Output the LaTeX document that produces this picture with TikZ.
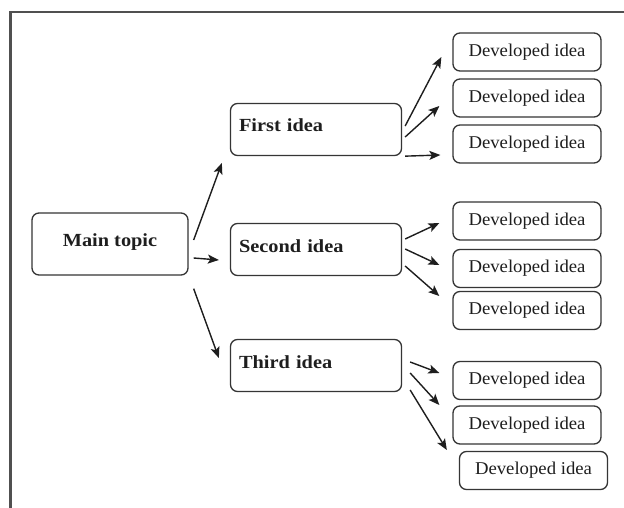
\documentclass[tikz,border=0pt]{standalone}
\usepackage{fontspec}
\setmainfont{Liberation Serif}[FakeStretch=1.04]
\newfontfamily\boldfam{Liberation Serif}[FakeStretch=1.1]
\usetikzlibrary{calc,arrows.meta}
\definecolor{ink}{HTML}{1E1E1E}
\definecolor{edge}{HTML}{353535}
\definecolor{framec}{HTML}{505050}
\begin{document}
\begin{tikzpicture}[x=1pt,y=-1pt,
  box/.style={draw=edge,line width=1.3pt,rounded corners=7pt,inner sep=0pt},
  mainbox/.style={box,minimum width=156pt,minimum height=62pt,
    font=\boldfam\bfseries\fontsize{18.5}{21}\selectfont,text=ink,
    text height=13.5pt,text depth=8.5pt},
  ideabox/.style={box,minimum width=171pt,minimum height=52pt,
    font=\boldfam\bfseries\fontsize{18.5}{21}\selectfont,text=ink,
    text width=154pt,align=left,inner xsep=0pt,
    text height=13.5pt,text depth=8.5pt},
  devbox/.style={box,minimum width=148pt,minimum height=38pt,
    font=\fontsize{18}{21}\selectfont,text=ink},
  arr/.style={draw=ink,line width=1.4pt,-{Stealth[length=11pt,width=9pt,inset=2.5pt]}}]
\useasboundingbox (0,0) rectangle (624,508);
\fill[white] (0,0) rectangle (624,508);
\draw[framec,line width=2.4pt] (624,12) -- (10.5,12) -- (10.5,508);

\node[mainbox] (main) at (110,244) {Main topic};
\node[ideabox] (first) at (316,129.5) {First idea};
\node[ideabox] (second) at (316,249.5) {Second idea};
\node[ideabox] (third) at (316,365.5) {Third idea};

\node[devbox] (d11) at (527,52) {Developed idea};
\node[devbox] (d12) at (527,98) {Developed idea};
\node[devbox] (d13) at (527,144) {Developed idea};
\node[devbox] (d21) at (527,221) {Developed idea};
\node[devbox] (d22) at (527,268.5) {Developed idea};
\node[devbox] (d23) at (527,310.5) {Developed idea};
\node[devbox] (d31) at (527,380.5) {Developed idea};
\node[devbox] (d32) at (527,425) {Developed idea};
\node[devbox] (d33) at (533.5,470.5) {Developed idea};

\draw[arr] ($(main.east)+(5,-4)$) -- ($(first.west)+(-8,33.5)$);
\draw[arr] ($(main.east)+(5,14)$) -- ($(second.west)+(-11,10.5)$);
\draw[arr] ($(main.south east)+(5,13)$) -- ($(third.west)+(-11,-7.5)$);

\draw[arr] ($(first.east)+(3,-3.5)$) -- ($(d11.west)+(-11,5)$);
\draw[arr] ($(first.east)+(3,7.5)$) -- ($(d12.west)+(-13,8)$);
\draw[arr] ($(first.south east)+(3,0)$) -- ($(d13.west)+(-12,11)$);

\draw[arr] ($(second.east)+(3,-10.5)$) -- ($(d21.west)+(-13,2)$);
\draw[arr] ($(second.east)+(3,-0.5)$) -- ($(d22.west)+(-13,-3.5)$);
\draw[arr] ($(second.east)+(3,16.5)$) -- ($(d23.west)+(-13,-14.5)$);

\draw[arr] ($(third.east)+(8,-3.5)$) -- ($(d31.west)+(-13,-7.5)$);
\draw[arr] ($(third.east)+(8,7.5)$) -- ($(d32.west)+(-13,-20)$);
\draw[arr] ($(third.east)+(8,24.5)$) -- ($(d33.west)+(-12,-20.5)$);
\end{tikzpicture}
\end{document}
